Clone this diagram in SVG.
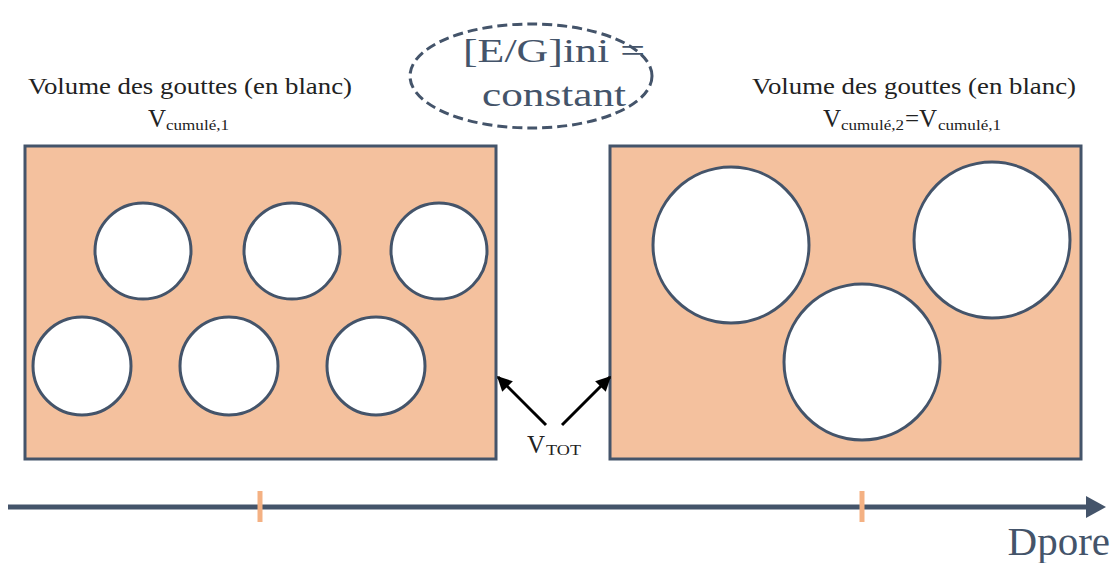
<svg xmlns="http://www.w3.org/2000/svg" width="1116" height="563" viewBox="0 0 1116 563">
<style>
.box{fill:#F4C19E;stroke:#44546A;stroke-width:3}
.drop{fill:#FFFFFF;stroke:#44546A;stroke-width:3}
.lbl{fill:#222222}
.blue{fill:#44546A}
.tick{stroke:#F4B183;stroke-width:5}
.arr{stroke:#000000;stroke-width:3;fill:none}
</style>
<defs>
<marker id="ah" viewBox="0 0 10 10" refX="9" refY="5" markerWidth="5" markerHeight="5" orient="auto" markerUnits="strokeWidth">
<path d="M0,0 L10,5 L0,10 z" fill="#000000"/>
</marker>
</defs>
<rect width="1116" height="563" fill="#FFFFFF"/>
<g id="title" font-family="'Liberation Serif', 'DejaVu Serif', serif">
<ellipse cx="531" cy="76" rx="121" ry="52" fill="none" stroke="#44546A" stroke-width="3" stroke-dasharray="10,5"/>
<text class="blue" x="554" y="62" font-size="33" text-anchor="middle" textLength="182" lengthAdjust="spacingAndGlyphs">[E/G]ini =</text>
<text class="blue" x="554" y="106" font-size="33" text-anchor="middle" textLength="144" lengthAdjust="spacingAndGlyphs">constant</text>
</g>
<g id="label-left" font-family="'Liberation Serif', 'DejaVu Serif', serif">
<text class="lbl" x="190" y="94" font-size="23" text-anchor="middle" textLength="324" lengthAdjust="spacingAndGlyphs">Volume des gouttes (en blanc)</text>
<text class="lbl" x="148" y="127" font-size="25">V</text>
<text class="lbl" x="166" y="130" font-size="15" textLength="63" lengthAdjust="spacingAndGlyphs">cumulé,1</text>
</g>
<g id="label-right" font-family="'Liberation Serif', 'DejaVu Serif', serif">
<text class="lbl" x="914" y="94" font-size="23" text-anchor="middle" textLength="324" lengthAdjust="spacingAndGlyphs">Volume des gouttes (en blanc)</text>
<text class="lbl" x="823" y="127" font-size="25">V</text>
<text class="lbl" x="841" y="130" font-size="15" textLength="63" lengthAdjust="spacingAndGlyphs">cumulé,2</text>
<text class="lbl" x="905" y="127" font-size="25">=V</text>
<text class="lbl" x="938" y="130" font-size="15" textLength="63" lengthAdjust="spacingAndGlyphs">cumulé,1</text>
</g>
<g id="box-left">
<rect class="box" x="25" y="146" width="471" height="313"/>
<circle class="drop" cx="143" cy="251" r="48"/>
<circle class="drop" cx="292" cy="251" r="48"/>
<circle class="drop" cx="439" cy="251" r="48"/>
<circle class="drop" cx="82" cy="366" r="49"/>
<circle class="drop" cx="229" cy="366" r="49"/>
<circle class="drop" cx="376" cy="366" r="49"/>
</g>
<g id="box-right">
<rect class="box" x="610" y="146" width="471" height="313"/>
<circle class="drop" cx="731" cy="245" r="78"/>
<circle class="drop" cx="992" cy="240" r="78"/>
<circle class="drop" cx="862" cy="362" r="78"/>
</g>
<g id="vtot" font-family="'Liberation Serif', 'DejaVu Serif', serif">
<text class="lbl" x="527" y="453" font-size="25">V</text>
<text class="lbl" x="546" y="455" font-size="15" textLength="35" lengthAdjust="spacingAndGlyphs">TOT</text>
</g>
<g id="connectors">
<line class="arr" x1="546" y1="425" x2="498" y2="377" marker-end="url(#ah)"/>
<line class="arr" x1="562" y1="425" x2="610" y2="377" marker-end="url(#ah)"/>
</g>
<g id="axis">
<line x1="8" y1="507" x2="1090" y2="507" stroke="#44546A" stroke-width="5"/>
<path d="M1086,496 L1106,507 L1086,518 z" fill="#44546A"/>
<line class="tick" x1="260" y1="491" x2="260" y2="522"/>
<line class="tick" x1="862" y1="491" x2="862" y2="522"/>
<text class="blue" x="1110" y="555" font-size="41" text-anchor="end" font-family="'Liberation Serif', 'DejaVu Serif', serif">Dpore</text>
</g>
</svg>
